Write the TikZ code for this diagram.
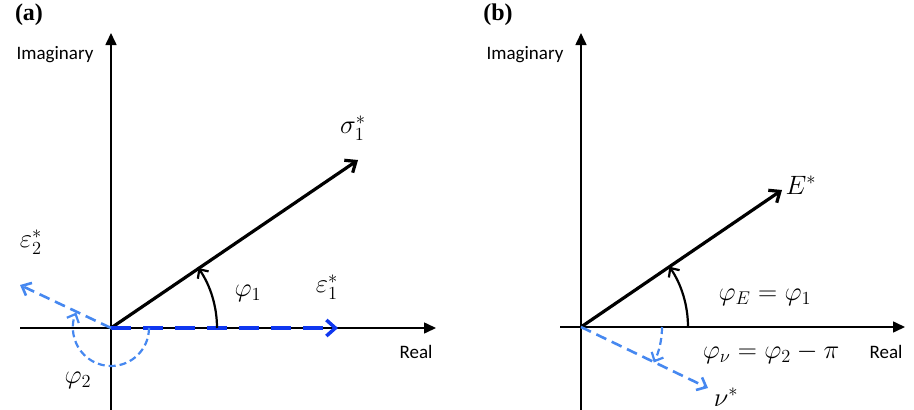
\documentclass[tikz,border=0pt]{standalone}
\usepackage{fontspec}
\setmainfont{Liberation Serif}
\setsansfont{Carlito}
\usetikzlibrary{arrows.meta}

\definecolor{lightblue}{RGB}{70,136,240}
\definecolor{deepblue}{RGB}{15,55,240}

\begin{document}
\begin{tikzpicture}[>=Stealth, x=1pt, y=-1pt,
    axis/.style={line width=1.6pt, -{Triangle[length=12pt,width=11pt]}},
    phasor/.style={line width=3.2pt, -{Straight Barb[length=9pt,width=15pt,line width=3.2pt]}},
    angarc/.style={line width=2.2pt, -{Straight Barb[length=7pt,width=13pt,line width=2.2pt]}},
    bluearc/.style={lightblue, line width=2.2pt, dash pattern=on 7pt off 4pt, -{Straight Barb[length=7pt,width=13pt,line width=2.2pt]}},
    axlabel/.style={font=\sffamily\fontsize{19}{22}\selectfont},
    mlabel/.style={font=\fontsize{20}{24}\selectfont, scale=1.28},
    panel/.style={font=\bfseries\fontsize{24}{28}\selectfont}]
\useasboundingbox (0,0) rectangle (914,410);

% (a)
\node[panel] (pa) at (29,15) {(a)};
\coordinate (Oa) at (111,328);
\coordinate (Ia0) at (111,410);
\coordinate (Ia) at (111,33);
\coordinate (Ra0) at (20,328);
\coordinate (Ra) at (436,328);
\draw[axis] (Ia0) -- (Ia);
\draw[axis] (Ra0) -- (Ra);
\node[axlabel] (ima) at (55,55) {Imaginary};
\node[axlabel] (rea) at (416,352) {Real};

\coordinate (sig) at (358,160);
\coordinate (eps1) at (338,328);
\coordinate (eps2) at (20,285);
\draw[phasor] (Oa) -- (sig);
\draw[deepblue, line width=4pt, dash pattern=on 20pt off 12pt,
      -{Straight Barb[length=9pt,width=16pt,line width=3.5pt]}] (Oa) -- (eps1);
\draw[lightblue, line width=2.6pt, dash pattern=on 11pt off 6pt,
      -{Straight Barb[length=8pt,width=14pt,line width=2.6pt]}] (Oa) -- (eps2);

\coordinate (p1s) at (217,328);
\draw[angarc] (p1s) arc[start angle=0, end angle=-34.5, radius=106];
\coordinate (p2s) at (149,328);
\draw[bluearc] (p2s) arc[start angle=0, end angle=204, radius=38];

\node[mlabel] (lsig) at (353,128) {$\sigma_1^{*}$};
\node[mlabel] (lp1) at (248,293) {$\varphi_1$};
\node[mlabel] (le1) at (327,287) {$\varepsilon_1^{*}$};
\node[mlabel] (le2) at (31,242) {$\varepsilon_2^{*}$};
\node[mlabel] (lp2) at (78,380) {$\varphi_2$};

% (b)
\node[panel] (pb) at (498,15) {(b)};
\coordinate (Ob) at (581,327);
\coordinate (Ib0) at (581,410);
\coordinate (Ib) at (581,33);
\coordinate (Rb0) at (560,327);
\coordinate (Rb) at (905,327);
\draw[axis] (Ib0) -- (Ib);
\draw[axis] (Rb0) -- (Rb);
\node[axlabel] (imb) at (525,55) {Imaginary};
\node[axlabel] (reb) at (886,352) {Real};

\coordinate (Et) at (782,190);
\coordinate (nut) at (708,388);
\draw[phasor] (Ob) -- (Et);
\draw[lightblue, line width=2.6pt, dash pattern=on 11pt off 6pt,
      -{Straight Barb[length=8pt,width=14pt,line width=2.6pt]}] (Ob) -- (nut);

\coordinate (pEs) at (688,327);
\draw[angarc] (pEs) arc[start angle=0, end angle=-34.3, radius=107];
\coordinate (pns) at (662,327);
\draw[bluearc] (pns) arc[start angle=0, end angle=26, radius=81];

\node[mlabel] (lE) at (801,185) {$E^{*}$};
\node[mlabel] (lpE) at (765,297) {$\varphi_E=\varphi_1$};
\node[mlabel] (lpn) at (771,353) {$\varphi_\nu=\varphi_2-\pi$};
\node[mlabel] (lnu) at (726,397) {$\nu^{*}$};
\end{tikzpicture}
\end{document}
